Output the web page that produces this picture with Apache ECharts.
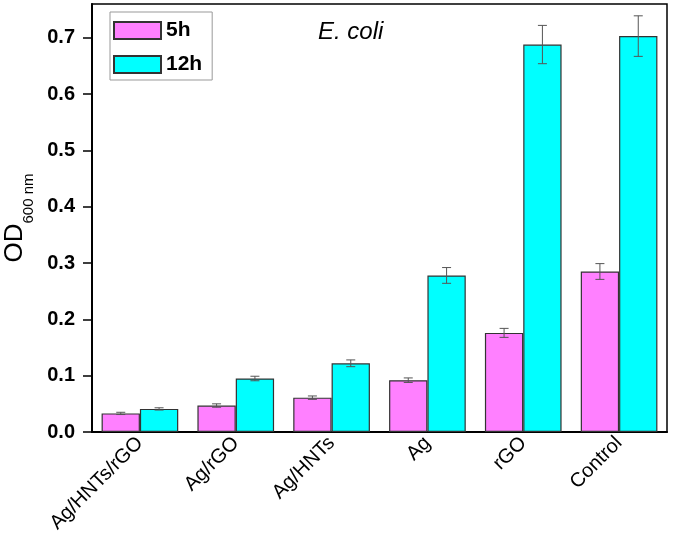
<!DOCTYPE html>
<html>
<head>
<meta charset="utf-8">
<script src="https://cdn.jsdelivr.net/npm/echarts@6/dist/echarts.min.js"></script>
<style>html,body{margin:0;padding:0;background:#fff}#c{width:673px;height:545px}</style>
</head>
<body>
<div id="c"></div>
<script>
const categories = ['Ag/HNTs/rGO', 'Ag/rGO', 'Ag/HNTs', 'Ag', 'rGO', 'Control'];
const values5h = [0.033, 0.047, 0.061, 0.092, 0.176, 0.285];
const errors5h = [0.002, 0.003, 0.003, 0.004, 0.008, 0.014];
const values12h = [0.041, 0.095, 0.122, 0.278, 0.688, 0.703];
const errors12h = [0.002, 0.004, 0.006, 0.014, 0.034, 0.036];
const yTicks = [0.0, 0.1, 0.2, 0.3, 0.4, 0.5, 0.6, 0.7];

const chart = echarts.init(document.getElementById('c'));
const catGap = 0.2;
function errSeries(name, vals, errs, sign) {
  return {
    type: 'custom',
    name: name + '_err',
    silent: true,
    z: 5,
    data: vals.map((v, i) => [i, v, errs[i]]),
    renderItem: function (params, api) {
      const i = api.value(0), v = api.value(1), e = api.value(2);
      const band = api.size([1, 0])[0];
      const off = sign * band * (1 - catGap) / 4;
      const top = api.coord([i, v + e]);
      const bot = api.coord([i, v - e]);
      const x = top[0] + off;
      const hw = 4.5;
      const style = { stroke: '#555', lineWidth: 1, fill: null };
      return {
        type: 'group',
        children: [
          { type: 'line', shape: { x1: x, y1: top[1], x2: x, y2: bot[1] }, style: style },
          { type: 'line', shape: { x1: x - hw, y1: top[1], x2: x + hw, y2: top[1] }, style: style },
          { type: 'line', shape: { x1: x - hw, y1: bot[1], x2: x + hw, y2: bot[1] }, style: style }
        ]
      };
    }
  };
}

chart.setOption({
  animation: false,
  grid: { left: 92, right: 6, top: 4, bottom: 113, outerBoundsMode: 'none', containLabel: false, show: true, borderColor: '#000', borderWidth: 1.5, backgroundColor: 'transparent' },
  legend: {
    data: ['5h', '12h'],
    orient: 'vertical',
    left: 110, top: 12,
    icon: 'rect',
    itemWidth: 47, itemHeight: 17, itemGap: 13,
    padding: [8, 10, 5, 3],
    borderColor: '#999', borderWidth: 1,
    textStyle: { fontFamily: 'Liberation Sans, Arial', fontWeight: 'bold', fontSize: 21, color: '#000' }
  },
  graphic: [{
    type: 'text', left: 318, top: 20,
    style: { text: 'E. coli', fontFamily: 'Liberation Sans, Arial', fontStyle: 'italic', fontSize: 24, fill: '#000' }
  }],
  xAxis: {
    type: 'category',
    data: categories,
    axisLine: { lineStyle: { color: '#000', width: 2 } },
    axisTick: { show: false },
    axisLabel: { rotate: 45, margin: 8, fontFamily: 'Liberation Sans, Arial', fontSize: 20, color: '#000', interval: 0 }
  },
  yAxis: {
    type: 'value',
    min: 0, max: 0.76, interval: 0.1,
    splitLine: { show: false },
    axisLine: { show: true, lineStyle: { color: '#000', width: 2 } },
    axisTick: { show: true, length: 9, lineStyle: { color: '#000', width: 1.5 } },
    axisLabel: {
      margin: 17,
      fontFamily: 'Liberation Sans, Arial', fontWeight: 'bold', fontSize: 20, color: '#000',
      showMaxLabel: false,
      formatter: function (v) { return yTicks.some(t => Math.abs(t - v) < 1e-9) ? v.toFixed(1) : ''; }
    },
    name: '{a|OD}{b|600 nm}',
    nameLocation: 'middle',
    nameRotate: 90,
    nameGap: 64,
    nameTextStyle: {
      rich: {
        a: { fontFamily: 'Liberation Sans, Arial', fontSize: 26, color: '#000', verticalAlign: 'bottom', lineHeight: 30 },
        b: { fontFamily: 'Liberation Sans, Arial', fontSize: 15, color: '#000', verticalAlign: 'bottom', lineHeight: 19, padding: [0, 0, -8, 0] }
      }
    }
  },
  series: [
    {
      name: '5h', type: 'bar', data: values5h,
      barGap: '0%', barCategoryGap: '20%',
      itemStyle: { color: '#FF80FF', borderColor: '#333', borderWidth: 1.2 }
    },
    {
      name: '12h', type: 'bar', data: values12h,
      barGap: '0%', barCategoryGap: '20%',
      itemStyle: { color: '#00FFFF', borderColor: '#333', borderWidth: 1.2 }
    },
    errSeries('5h', values5h, errors5h, -1),
    errSeries('12h', values12h, errors12h, 1)
  ]
});
</script>
</body>
</html>
